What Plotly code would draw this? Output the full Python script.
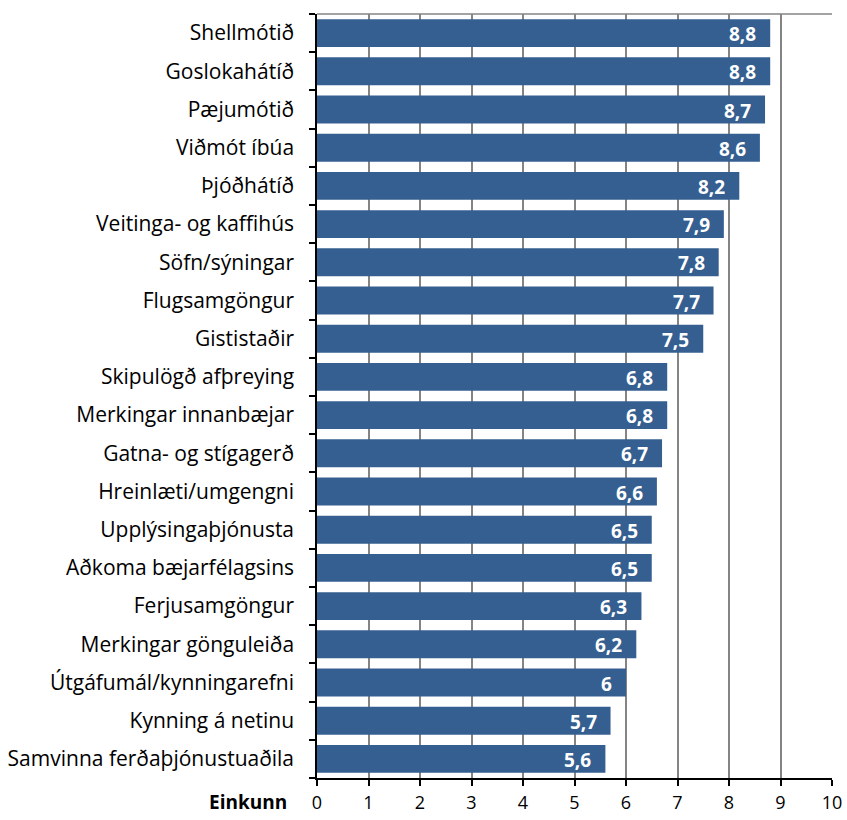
import plotly.graph_objects as go

# Einkunnir (0-10) fyrir hvern þátt, raðað frá hæstu til lægstu
categories = [
    "Shellmótið", "Goslokahátíð", "Pæjumótið", "Viðmót íbúa", "Þjóðhátíð",
    "Veitinga- og kaffihús", "Söfn/sýningar", "Flugsamgöngur", "Gististaðir",
    "Skipulögð afþreying", "Merkingar innanbæjar", "Gatna- og stígagerð",
    "Hreinlæti/umgengni", "Upplýsingaþjónusta", "Aðkoma bæjarfélagsins",
    "Ferjusamgöngur", "Merkingar gönguleiða", "Útgáfumál/kynningarefni",
    "Kynning á netinu", "Samvinna ferðaþjónustuaðila",
]
scores = [8.8, 8.8, 8.7, 8.6, 8.2, 7.9, 7.8, 7.7, 7.5, 6.8,
          6.8, 6.7, 6.6, 6.5, 6.5, 6.3, 6.2, 6.0, 5.7, 5.6]
x_ticks = list(range(0, 11))
x_title = "Einkunn"

FONT = "Open Sans"
BAR = "#365F91"
GRID = "#848484"

labels = [f"{v:g}".replace(".", ",") for v in scores]

fig = go.Figure(go.Bar(
    x=scores,
    y=categories,
    orientation="h",
    marker=dict(color=BAR, line=dict(width=0)),
    hoverinfo="x+y",
))

# value labels inside the end of each bar
for cat, val, lab in zip(categories, scores, labels):
    fig.add_annotation(
        x=val, y=cat, xref="x", yref="y",
        text=f"<b>{lab}</b>",
        xanchor="right", yanchor="middle",
        xshift=-12, yshift=-1,
        showarrow=False,
        font=dict(family=FONT, size=19, color="white"),
    )

fig.update_layout(
    width=847, height=820,
    margin=dict(l=317, r=15, t=14, b=42),
    paper_bgcolor="white", plot_bgcolor="white",
    bargap=0.27,
    showlegend=False,
    font=dict(family=FONT, size=20, color="black"),
)

fig.update_xaxes(
    range=[0, 10],
    tickvals=x_ticks,
    ticktext=[str(t) for t in x_ticks],
    automargin=False,
    showgrid=True, gridcolor=GRID, gridwidth=1.5,
    showline=True, linecolor="black", linewidth=1.5,
    ticks="outside", ticklen=6, tickcolor="black", tickwidth=1.5,
    ticklabelstandoff=2,
    tickfont=dict(family=FONT, size=18),
    zeroline=False,
)

fig.update_yaxes(
    categoryorder="array",
    categoryarray=categories[::-1],
    autorange=True,
    automargin=False,
    tickson="boundaries",
    ticks="outside", ticklen=6, tickcolor="black", tickwidth=1.5,
    showline=True, linecolor="black", linewidth=1.5,
    showgrid=False,
    ticklabelstandoff=17,
    tickfont=dict(family=FONT, size=21),
)

# grey frame along the top edge of the plot area
fig.add_shape(type="line", xref="paper", yref="paper",
              x0=0, x1=1, y0=1, y1=1,
              line=dict(color=GRID, width=1.5))

# axis title placed to the left of the x tick labels
fig.add_annotation(
    text=f"<b>{x_title}</b>",
    xref="paper", yref="paper", x=0, y=0,
    xanchor="right", yanchor="top",
    xshift=-28, yshift=-9,
    showarrow=False,
    font=dict(family=FONT, size=19, color="black"),
)

fig.write_html("out.html")
